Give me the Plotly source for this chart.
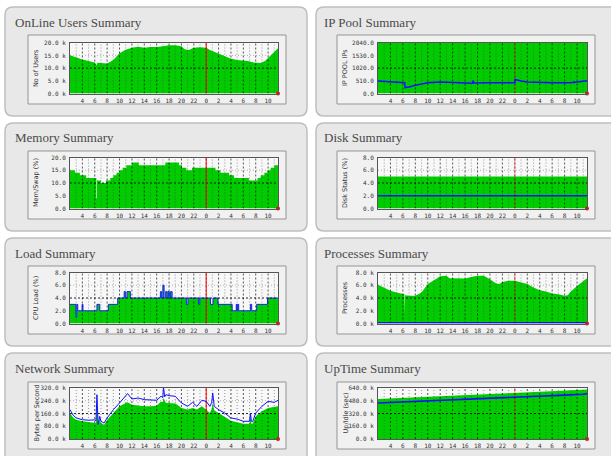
import plotly.graph_objects as go

W, H = 611, 456

# ---------------- data ----------------
hour_ticks = [4, 6, 8, 10, 12, 14, 16, 18, 20, 22, 24, 26, 28, 30, 32, 34]
hour_labels = ["4", "6", "8", "10", "12", "14", "16", "18", "20", "22",
               "0", "2", "4", "6", "8", "10"]
grid_hours = list(range(3, 36))
x_start, x_end = 2.0, 35.6
midnight = 24

# OnLine users (thousands)
users_h = [2, 3, 4, 5, 6, 6.3, 6.4, 7, 8, 9, 10, 11, 12, 13, 14, 15, 16, 17, 18, 19, 20,
           20.5, 21.2, 22, 23, 24, 24.6, 25.5, 26.3, 27, 27.9, 29, 30, 30.7, 31.7,
           32.8, 33.5, 33.9, 34.7, 35.6]
users_k = [15.1, 14.2, 13.4, 12.8, 12.2, 11.0, 12.1, 12.0, 11.8, 13.2, 15.8, 17.2, 18.0,
           18.4, 18.0, 18.3, 18.3, 18.6, 19.0, 19.0, 18.6, 17.4, 17.1, 18.0, 18.2, 18.0,
           17.1, 16.2, 15.4, 14.6, 13.8, 13.2, 13.0, 12.8, 12.2, 12.0, 12.8, 13.8, 15.8, 17.8]

# IP pool
ip_pool_h = [2, 35.6]
ip_pool_size = [2040, 2040]
ip_used_h = [2, 3, 4, 5, 6, 6.3, 6.35, 7, 8, 9, 10, 12, 14, 16, 17.2, 17.3, 17.4, 20,
             22, 24, 24.05, 24.5, 25, 26, 28, 30, 32, 33.4, 33.5, 33.6, 34, 35.6]
ip_used = [500, 480, 460, 450, 440, 434, 237, 260, 330, 395, 434, 460, 434, 408, 410,
           526, 420, 430, 420, 434, 566, 530, 500, 460, 434, 430, 434, 440, 490, 445, 460, 513]

# Memory / swap (%) - stepped
mem_h = [2.0, 2.8, 3.6, 4.6, 6.25, 6.35, 7.0, 7.8, 8.5, 9.0, 9.5, 10.0, 10.5, 11.1, 12.0,
         13.1, 17.4, 19.6, 20.1, 20.8, 21.7, 25.5, 26.3, 27.7, 28.5, 30.9, 32.3, 32.8,
         33.4, 33.9, 34.4, 35.0, 35.6]
mem_pct = [15, 14, 13, 12, 4, 11, 10, 11, 12, 13, 14, 15, 16, 17, 18, 17, 18, 17, 16, 15,
           16, 15, 14, 13, 12, 11, 12, 13, 14, 15, 16, 17, 17]

# Disk status (%)
disk_h = [2, 35.6]
disk_total = [5.0, 5.0]
disk_used = [2.0, 2.0]

# CPU load (%) - stepped
load_h = [2.0, 2.95, 3.1, 3.25, 3.95, 4.1, 6.35, 6.8, 8.2, 9.7, 10.75, 10.95, 11.2, 11.75,
          16.6, 16.8, 17.0, 17.2, 17.45, 17.7, 17.85, 18.05, 18.25, 18.5, 20.8, 21.05,
          22.75, 22.95, 24.7, 25.1, 25.9, 28.2, 28.85, 29.0, 29.1, 29.25, 31.15, 31.35,
          32.15, 33.9, 35.6]
load_val = [3, 1, 3, 2, 3, 2, 3, 2, 3, 4, 5, 4, 5, 4, 5, 4, 6, 4, 5, 4, 5, 4, 5, 4, 3, 4,
            3, 4, 3, 4, 3, 2, 3, 2, 3, 2, 3, 2, 3, 4, 4]

# Processes (thousands)
proc_h = [2, 3, 4, 5, 6, 6.25, 6.3, 6.35, 7, 8, 9, 10, 11, 12, 13, 13.5, 14, 15, 16, 17,
          18, 19, 20, 21, 21.5, 22, 23, 24, 25, 26, 27, 28, 29, 30, 31, 32, 32.5, 33, 34,
          35, 35.6]
proc_k = [6.07, 5.55, 5.13, 4.87, 4.7, 4.6, 1.5, 4.45, 4.35, 4.35, 4.87, 6.2, 6.8, 7.4,
          7.5, 7.1, 7.1, 7.1, 7.07, 7.3, 7.5, 7.5, 6.96, 6.28, 6.2, 6.5, 6.7, 6.7, 6.5,
          6.2, 5.65, 5.23, 5.03, 4.7, 4.6, 4.35, 4.45, 5.03, 5.9, 6.7, 7.1]
proc_zombie_h = [2, 35.6]
proc_zombie_k = [0.12, 0.12]

# Network (thousand bytes per second)
net_h = [2, 2.5, 3, 4, 5, 6, 6.2, 6.35, 6.55, 6.8, 7.0, 7.5, 8, 9, 10, 11, 11.3, 12, 13,
         14, 15, 16, 16.7, 17.0, 17.1, 17.3, 17.5, 18, 19, 19.5, 20, 21, 21.8, 22.5, 23.3,
         24, 24.6, 24.9, 25.05, 25.3, 26, 27, 28, 29, 30, 31, 31.15, 31.3, 31.5, 32, 33,
         34, 35, 35.6]
net_out_k = [184, 150, 132, 121, 118, 120, 115, 278, 90, 142, 111, 100, 132, 184, 226,
             268, 285, 251, 257, 247, 247, 243, 268, 260, 326, 265, 278, 272, 268, 247,
             226, 205, 230, 205, 243, 236, 205, 230, 289, 205, 184, 163, 132, 125, 111,
             111, 163, 111, 108, 163, 205, 236, 230, 243]
net_in_k = [163, 135, 121, 111, 107, 105, 100, 247, 80, 125, 100, 90, 120, 163, 205, 226,
            230, 215, 209, 205, 205, 209, 235, 230, 257, 240, 226, 226, 222, 210, 195,
            185, 195, 185, 205, 184, 163, 190, 226, 180, 163, 142, 115, 105, 96, 96, 153,
            96, 95, 142, 174, 195, 201, 205]

# Uptime / idle (thousand seconds)
up_h = [2, 5, 8, 11, 14, 17, 20, 23, 26, 29, 32, 35, 35.6]
up_total_k = [502, 511, 522, 532, 543, 554, 565, 575, 586, 597, 608, 618, 620]
up_idle_k = [452, 461, 471, 481, 491, 501, 511, 521, 531, 541, 551, 561, 569]

# ---------------- chart definitions ----------------
GREEN = "#00cc00"
BLUE = "#1010ff"

charts = [
    dict(title="OnLine Users Summary", ytitle="No of Users", top=20,
         yt=[0, 5, 10, 15, 20], yl=["0.0 k", "5.0 k", "10.0 k", "15.0 k", "20.0 k"],
         fill=(users_h, users_k, "linear"), line=None, red=1.0),
    dict(title="IP Pool Summary", ytitle="IP POOL IPs", top=2040,
         yt=[0, 510, 1020, 1530, 2040], yl=["0.0", "510.0", "1020.0", "1530.0", "2040.0"],
         fill=(ip_pool_h, ip_pool_size, "linear"), line=(ip_used_h, ip_used, "linear", 1.5), red=0.45),
    dict(title="Memory Summary", ytitle="Mem/Swap (%)", top=20,
         yt=[0, 5, 10, 15, 20], yl=["0.0", "5.0", "10.0", "15.0", "20.0"],
         fill=(mem_h, mem_pct, "hv"), line=None, red=1.0),
    dict(title="Disk Summary", ytitle="Disk Status (%)", top=8,
         yt=[0, 2, 4, 6, 8], yl=["0.0", "2.0", "4.0", "6.0", "8.0"],
         fill=(disk_h, disk_total, "linear"), line=(disk_h, disk_used, "linear", 1.6), red=0.45),
    dict(title="Load Summary", ytitle="CPU Load (%)", top=8,
         yt=[0, 2, 4, 6, 8], yl=["0.0", "2.0", "4.0", "6.0", "8.0"],
         fill=(load_h, load_val, "hv"), line=(load_h, load_val, "hv", 0.9), red=1.0),
    dict(title="Processes Summary", ytitle="Processes", top=8,
         yt=[0, 2, 4, 6, 8], yl=["0.0 k", "2.0 k", "4.0 k", "6.0 k", "8.0 k"],
         fill=(proc_h, proc_k, "linear"), line=(proc_zombie_h, proc_zombie_k, "linear", 1.6), red=0.45),
    dict(title="Network Summary", ytitle="Bytes per Second", top=320,
         yt=[0, 80, 160, 240, 320], yl=["0.0 k", "80.0 k", "160.0 k", "240.0 k", "320.0 k"],
         fill=(net_h, net_in_k, "linear"), line=(net_h, net_out_k, "linear", 1.0), red=1.0),
    dict(title="UpTime Summary", ytitle="Up/Idle (sec)", top=640,
         yt=[0, 160, 320, 480, 640], yl=["0.0 k", "160.0 k", "320.0 k", "480.0 k", "640.0 k"],
         fill=(up_h, up_total_k, "linear"), line=(up_h, up_idle_k, "linear", 1.6), red=0.45),
]

# ---------------- geometry (pixels) ----------------
COLS = [dict(panel=(5, 307), box=(28, 286), plot=(70, 278), title=13, ytitle=36),
        dict(panel=(316, 640), box=(337, 595), plot=(378, 587), title=322, ytitle=345)]
ROWS = [dict(panel=(7, 116), box=(35, 104), plot=(42.7, 93.5), title=23),
        dict(panel=(123, 231), box=(151, 219), plot=(157.5, 208.5), title=138),
        dict(panel=(238, 346), box=(266, 334), plot=(272.5, 323.5), title=253),
        dict(panel=(353, 480), box=(382, 449), plot=(388, 439), title=368)]


def X(x):
    return x / W


def Y(y):
    return 1 - y / H


def rrect(x0, y0, x1, y1, r):
    return (f"M {X(x0 + r)},{Y(y0)} L {X(x1 - r)},{Y(y0)} Q {X(x1)},{Y(y0)} {X(x1)},{Y(y0 + r)} "
            f"L {X(x1)},{Y(y1 - r)} Q {X(x1)},{Y(y1)} {X(x1 - r)},{Y(y1)} "
            f"L {X(x0 + r)},{Y(y1)} Q {X(x0)},{Y(y1)} {X(x0)},{Y(y1 - r)} "
            f"L {X(x0)},{Y(y0 + r)} Q {X(x0)},{Y(y0)} {X(x0 + r)},{Y(y0)} Z")


fig = go.Figure()
shapes = []
annotations = []
layout = {}

TICKFONT = dict(family="DejaVu Sans Mono", size=6, color="#333333")

for i, ch in enumerate(charts):
    col = COLS[i % 2]
    row = ROWS[i // 2]
    n = i + 1
    xa = "x" if n == 1 else f"x{n}"
    ya = "y" if n == 1 else f"y{n}"
    xkey = "xaxis" if n == 1 else f"xaxis{n}"
    ykey = "yaxis" if n == 1 else f"yaxis{n}"

    shapes.append(dict(type="path", xref="paper", yref="paper", layer="below",
                       path=rrect(col["panel"][0], row["panel"][0], col["panel"][1], row["panel"][1], 8),
                       fillcolor="#e8e8e8", line=dict(color="#bebebe", width=1.5)))
    shapes.append(dict(type="rect", xref="paper", yref="paper", layer="below",
                       x0=X(col["box"][0]), x1=X(col["box"][1]),
                       y0=Y(row["box"][1]), y1=Y(row["box"][0]),
                       fillcolor="#f1f1f1", line=dict(color="#959595", width=1)))
    shapes.append(dict(type="rect", xref="paper", yref="paper", layer="below",
                       x0=X(col["plot"][0]), x1=X(col["plot"][1]),
                       y0=Y(row["plot"][1]), y1=Y(row["plot"][0]),
                       fillcolor="#f8f8f8", line=dict(width=0)))

    top = ch["top"]
    fx, fy, fshape = ch["fill"]
    fig.add_trace(go.Scatter(x=fx, y=fy, mode="lines", line=dict(width=0, shape=fshape),
                             fill="tozeroy", fillcolor=GREEN, xaxis=xa, yaxis=ya,
                             hoverinfo="skip", showlegend=False))

    for parity, color, dash in [(1, "rgba(60,60,60,0.5)", "1px,2px"),
                                (0, "rgba(0,0,0,0.65)", "2px,2px")]:
        gx, gy = [], []
        for h in grid_hours:
            if h % 2 == parity:
                gx += [h, h, None]
                gy += [0, top, None]
        fig.add_trace(go.Scatter(x=gx, y=gy, mode="lines",
                                 line=dict(color=color, width=1, dash=dash),
                                 xaxis=xa, yaxis=ya, hoverinfo="skip", showlegend=False))
    hx, hy = [], []
    for v in ch["yt"][1:-1]:
        if v != ch["yt"][2]:
            hx += [x_start, x_end, None]
            hy += [v, v, None]
    fig.add_trace(go.Scatter(x=hx, y=hy, mode="lines",
                             line=dict(color="rgba(110,110,110,0.5)", width=1, dash="1px,2px"),
                             xaxis=xa, yaxis=ya, hoverinfo="skip", showlegend=False))
    mid = ch["yt"][2]
    fig.add_trace(go.Scatter(x=[x_start, x_end], y=[mid, mid], mode="lines",
                             line=dict(color="rgba(0,0,0,0.85)", width=1, dash="2px,2px"),
                             xaxis=xa, yaxis=ya, hoverinfo="skip", showlegend=False))
    fig.add_trace(go.Scatter(x=[midnight, midnight], y=[0, top], mode="lines",
                             line=dict(color=f"rgba(255,0,0,{ch['red']})", width=1),
                             xaxis=xa, yaxis=ya, hoverinfo="skip", showlegend=False))
    if ch["line"] is not None:
        lx, ly, lshape, lw = ch["line"]
        fig.add_trace(go.Scatter(x=lx, y=ly, mode="lines",
                                 line=dict(color=BLUE, width=lw, shape=lshape),
                                 xaxis=xa, yaxis=ya, hoverinfo="skip", showlegend=False))
    fig.add_trace(go.Scatter(x=[x_end], y=[0], mode="markers",
                             marker=dict(color="#ff0000", size=4), cliponaxis=False,
                             xaxis=xa, yaxis=ya, hoverinfo="skip", showlegend=False))

    layout[xkey] = dict(domain=[X(col["plot"][0]), X(col["plot"][1])], anchor=ya,
                        range=[x_start, x_end], tickvals=hour_ticks, ticktext=hour_labels,
                        tickfont=TICKFONT, showgrid=False, zeroline=False,
                        showline=True, mirror=True, linecolor="#555555", linewidth=1,
                        ticks="", ticklabelstandoff=1, fixedrange=True, automargin=False)
    layout[ykey] = dict(domain=[Y(row["plot"][1]), Y(row["plot"][0])], anchor=xa,
                        range=[0, top], tickvals=ch["yt"], ticktext=ch["yl"],
                        tickfont=TICKFONT, showgrid=False, zeroline=False,
                        showline=True, mirror=True, linecolor="#555555", linewidth=1,
                        ticks="", ticklabelstandoff=2, fixedrange=True, automargin=False)

    annotations.append(dict(text=ch["title"], xref="paper", yref="paper",
                            x=X(col["title"]), y=Y(row["title"]), xanchor="left", yanchor="middle",
                            showarrow=False,
                            font=dict(family="Liberation Serif", size=13, color="#4a4a4a")))
    annotations.append(dict(text=ch["ytitle"], xref="paper", yref="paper", textangle=-90,
                            x=X(col["ytitle"]), y=Y((row["plot"][0] + row["plot"][1]) / 2),
                            xanchor="center", yanchor="middle", showarrow=False,
                            font=dict(family="DejaVu Sans", size=6.5, color="#333333")))

fig.update_layout(width=W, height=H, margin=dict(l=0, r=0, t=0, b=0, pad=0),
                  autosize=False,
                  paper_bgcolor="white", plot_bgcolor="rgba(0,0,0,0)",
                  shapes=shapes, annotations=annotations, showlegend=False, **layout)

fig.write_html("out.html", config=dict(displayModeBar=False, responsive=False),
               post_script="document.body.style.margin='0';document.body.style.overflow='hidden';")
